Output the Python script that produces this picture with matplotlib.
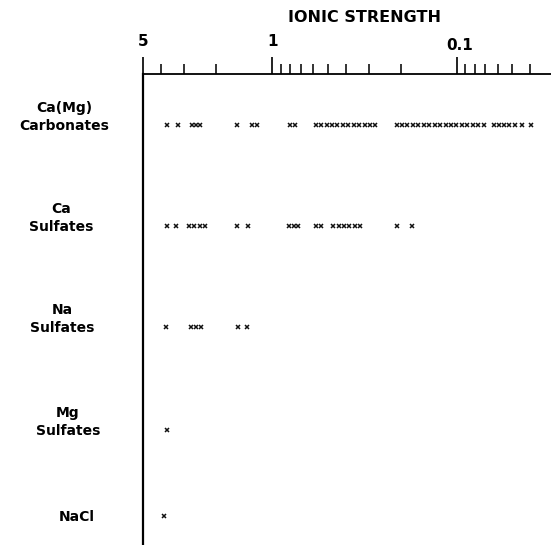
import numpy as np
import matplotlib.pyplot as plt
import matplotlib.transforms as mtransforms
from matplotlib.ticker import FixedLocator, NullFormatter

plt.rcParams['font.family'] = 'DejaVu Sans'
plt.rcParams['font.weight'] = 'bold'

categories = ['Ca(Mg)\nCarbonates', 'Ca\nSulfates', 'Na\nSulfates', 'Mg\nSulfates', 'NaCl']

# ionic strength values where each mineral group was found
carbonates = [3.71, 3.24, 2.72, 2.59, 2.46, 1.54, 1.28, 1.21, 0.798, 0.750,
              0.580, 0.542, 0.507, 0.474, 0.443, 0.414, 0.387, 0.362, 0.338,
              0.316, 0.295, 0.276,
              0.212, 0.198, 0.185, 0.173, 0.1615, 0.151, 0.141, 0.132, 0.123,
              0.115, 0.1075, 0.1005, 0.0939, 0.0877, 0.0819, 0.0766, 0.0716,
              0.0632, 0.0592, 0.0554, 0.0519, 0.0486, 0.0445, 0.0398]
ca_sulfates = [3.71, 3.30, 2.83, 2.65, 2.47, 2.31, 1.54, 1.35, 0.808, 0.764,
               0.722, 0.577, 0.542, 0.468, 0.437, 0.409, 0.382, 0.357, 0.334,
               0.210, 0.175]
na_sulfates = [3.74, 2.76, 2.59, 2.43, 1.53, 1.36]
mg_sulfates = [3.71]
nacl = [3.86]

major_ticks = [5, 1, 0.1]
major_labels = ['5', '1', '0.1']
minor_ticks = [4, 3, 2, 0.9, 0.8, 0.7, 0.6, 0.5, 0.4, 0.3, 0.2,
               0.09, 0.08, 0.07, 0.06, 0.05, 0.04]

series = [carbonates, ca_sulfates, na_sulfates, mg_sulfates, nacl]

# layout: vertical row positions and label x centres (pixels)
row_y = [0, 1, 2, 3.02, 3.87]
label_x = [64, 61, 62, 68, 77]

fig = plt.figure(figsize=(5.51, 5.45), dpi=100)
ax = fig.add_axes([143 / 551, 0.0, 1 - 143 / 551, 1 - 74 / 545])

for vals, y in zip(series, row_y):
    ax.plot(vals, [y] * len(vals), 'x', ms=3.3, mew=1.1, color='#111111')

ax.set_xscale('log')
ax.set_xlim(5, 0.0309)
ax.set_ylim(4.158, -0.505)

ax.xaxis.tick_top()
ax.xaxis.set_major_locator(FixedLocator(major_ticks))
ax.set_xticklabels(major_labels)
ax.xaxis.set_minor_locator(FixedLocator(minor_ticks))
ax.xaxis.set_minor_formatter(NullFormatter())
ax.tick_params(axis='x', which='major', direction='out', length=12, width=1.3,
               pad=6, labelsize=11, color='#111111')
ax.tick_params(axis='x', which='minor', direction='out', length=7, width=1.2,
               color='#111111')
ax.set_yticks([])

# the 0.1 label sits a little lower and to the right in the original
lab01 = ax.get_xticklabels()[2]
lab01.set_transform(lab01.get_transform() +
                    mtransforms.ScaledTranslation(3 / 100, -4 / 100, fig.dpi_scale_trans))

ax.spines['right'].set_visible(False)
ax.spines['bottom'].set_visible(False)
ax.spines['top'].set_linewidth(1.3)
ax.spines['left'].set_linewidth(1.6)

for lab, y, lx in zip(categories, row_y, label_x):
    ax.annotate(lab, xy=(lx / 551, y), xycoords=('figure fraction', 'data'),
                xytext=(0, -8), textcoords='offset pixels',
                ha='center', va='bottom', fontsize=10, linespacing=1.4,
                annotation_clip=False)

fig.text(364 / 551, 1 - 18 / 545, 'IONIC STRENGTH', ha='center', va='center',
         fontsize=11.5, fontweight='bold')

plt.savefig('out.png', dpi=100)
